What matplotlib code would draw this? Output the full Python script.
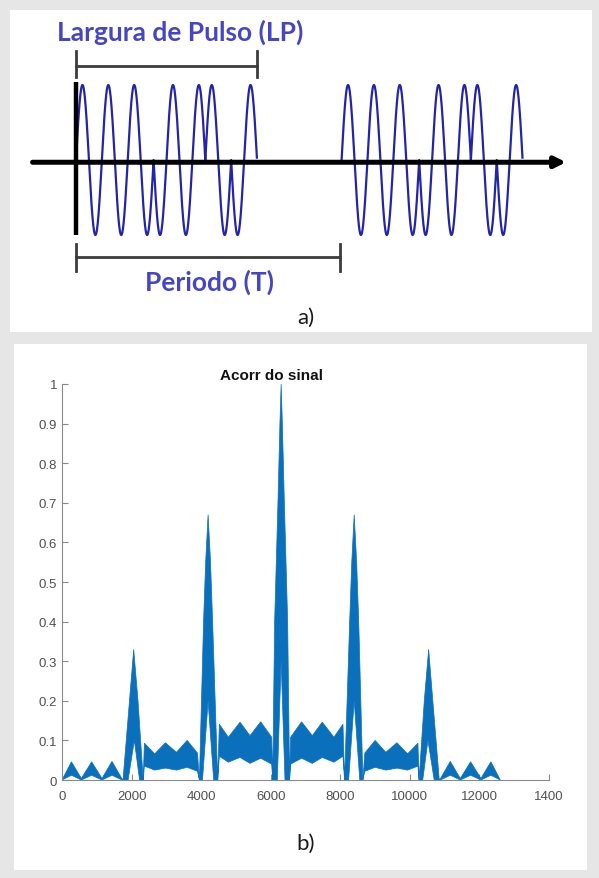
import numpy as np
import matplotlib
matplotlib.use("Agg")
import matplotlib.pyplot as plt
from matplotlib.patches import Rectangle

# ---------------- data ----------------
# (a) phase-coded pulse diagram (Barker-7 code, 1 carrier cycle per chip)
barker_code = [1, 1, 1, -1, -1, 1, -1]
pulse_width_LP = 7.0      # chips
period_T = 10.27          # chips
n_pulses = 2

# (b) autocorrelation envelope (upper / lower edges of the filled band)
upper_x = [0, 271, 557, 853, 1150, 1437, 1725,
           1754, 1940, 2061, 2185, 2335,
           2368, 2665, 2972, 3291, 3598, 3895,
           3950, 4070, 4130, 4200, 4270, 4330, 4477,
           4523, 4782, 5118, 5405, 5712, 6028,
           6057, 6113, 6208, 6265, 6300, 6335, 6392, 6487, 6543,
           6572, 6888, 7195, 7482, 7818, 8077,
           8123, 8270, 8330, 8400, 8470, 8530, 8650,
           8705, 9002, 9309, 9628, 9935, 10232,
           10265, 10415, 10540, 10660, 10846,
           10875, 11163, 11450, 11747, 12043, 12329, 12600]
upper_y = [0.0, 0.046, 0.004, 0.046, 0.004, 0.047, 0.003,
           0.0, 0.20, 0.33, 0.20, 0.0,
           0.093, 0.066, 0.094, 0.070, 0.100, 0.068,
           0.0, 0.40, 0.55, 0.67, 0.55, 0.40, 0.0,
           0.141, 0.108, 0.146, 0.112, 0.147, 0.108,
           0.0, 0.40, 0.70, 0.90, 1.0, 0.90, 0.70, 0.40, 0.0,
           0.108, 0.147, 0.112, 0.146, 0.108, 0.141,
           0.0, 0.40, 0.55, 0.67, 0.55, 0.40, 0.0,
           0.068, 0.100, 0.070, 0.094, 0.066, 0.093,
           0.0, 0.20, 0.33, 0.20, 0.0,
           0.003, 0.047, 0.004, 0.046, 0.004, 0.046, 0.0]
lower_x = [0, 271, 557, 853, 1150, 1437, 1725,
           1900, 2080, 2230, 2335,
           2368, 2665, 2972, 3291, 3598, 3895,
           3950, 4040, 4200, 4360, 4477,
           4523, 4782, 5118, 5405, 5712, 6028,
           6057, 6190, 6300, 6410, 6543,
           6572, 6888, 7195, 7482, 7818, 8077,
           8123, 8240, 8400, 8560, 8650,
           8705, 9002, 9309, 9628, 9935, 10232,
           10265, 10370, 10520, 10700, 10846,
           10875, 11163, 11450, 11747, 12043, 12329, 12600]
lower_y = [0.0, 0.012, 0.0, 0.012, 0.0, 0.012, 0.0,
           0.0, 0.10, 0.0, 0.0,
           0.035, 0.025, 0.030, 0.025, 0.032, 0.022,
           0.0, 0.0, 0.20, 0.0, 0.0,
           0.060, 0.045, 0.057, 0.042, 0.055, 0.040,
           0.0, 0.0, 0.30, 0.0, 0.0,
           0.040, 0.055, 0.042, 0.057, 0.045, 0.060,
           0.0, 0.0, 0.20, 0.0, 0.0,
           0.022, 0.032, 0.025, 0.030, 0.025, 0.035,
           0.0, 0.0, 0.10, 0.0, 0.0,
           0.0, 0.012, 0.0, 0.012, 0.0, 0.012, 0.0]
x_ticks = [0, 2000, 4000, 6000, 8000, 10000, 12000, 14000]
x_tick_labels = ["0", "2000", "4000", "6000", "8000", "10000", "12000", "1400"]
y_ticks = [0, 0.1, 0.2, 0.3, 0.4, 0.5, 0.6, 0.7, 0.8, 0.9, 1.0]
y_tick_labels = ["0", "0.1", "0.2", "0.3", "0.4", "0.5", "0.6", "0.7", "0.8", "0.9", "1"]

# ---------------- figure ----------------
W, H = 599, 879
fig = plt.figure(figsize=(W / 100, H / 100), dpi=100)
fig.patch.set_facecolor("#e6e6e6")


def fr(x0, y0, x1, y1):
    return [x0 / W, 1 - y1 / H, (x1 - x0) / W, (y1 - y0) / H]


# white panels
for (x0, y0, x1, y1) in [(10, 11, 592, 333), (14, 345, 587, 871)]:
    fig.patches.append(Rectangle((x0 / W, 1 - y1 / H), (x1 - x0) / W, (y1 - y0) / H,
                                 transform=fig.transFigure, facecolor="white",
                                 edgecolor="none", zorder=-5))

# ---------------- (a) ----------------
chip_px = 25.86
amp_px = 75.0
x0_px, y0_px = 76.0, 161.0
axa = fig.add_axes(fr(10, 11, 592, 333))
axa.set_xlim((10 - x0_px) / chip_px, (592 - x0_px) / chip_px)
axa.set_ylim((y0_px - 333) / amp_px, (y0_px - 11) / amp_px)
axa.axis("off")

wave_col = "#2424aa"
for p in range(n_pulses):
    t = np.linspace(0, pulse_width_LP, 1400, endpoint=False)
    code = np.array(barker_code)[np.floor(t).astype(int)]
    y = code * np.sin(2 * np.pi * t)
    axa.plot(p * period_T + t, y, color=wave_col, lw=1.6, zorder=3)

# time axis arrow
axa.annotate("", xy=(18.95, -0.03), xytext=(-1.68, -0.03),
             arrowprops=dict(arrowstyle="-|>", lw=3.6, color="black",
                             mutation_scale=16, shrinkA=0, shrinkB=0), zorder=4)
# vertical start line
axa.plot([0, 0], [-1.0, 1.04], color="black", lw=3.2, zorder=4, solid_capstyle="butt")

br_col = "#3c3c3c"
# LP bracket
axa.plot([0, pulse_width_LP], [1.25, 1.25], color=br_col, lw=2.0)
for xb in (0, pulse_width_LP):
    axa.plot([xb, xb], [1.11, 1.45], color=br_col, lw=2.0)
# T bracket
axa.plot([0, period_T - 0.07], [-1.29, -1.29], color=br_col, lw=2.0)
for xb in (0, period_T - 0.07):
    axa.plot([xb, xb], [-1.12, -1.48], color=br_col, lw=2.0)

txt_col = "#4646c4"
axa.text(4.02, 1.71, "Largura de Pulso (LP)", color=txt_col, fontsize=19,
         fontweight="bold", family="Lato", ha="center", va="center")
axa.text(5.18, -1.62, "Periodo (T)", color=txt_col, fontsize=19,
         fontweight="bold", family="Lato", ha="center", va="center")
fig.text(306 / W, 1 - 318 / H, "a)", fontsize=16, family="Lato",
         color="#1a1a1a", ha="center", va="center")
fig.text(306 / W, 1 - 844 / H, "b)", fontsize=16, family="Lato",
         color="#1a1a1a", ha="center", va="center")

# ---------------- (b) ----------------
axb = fig.add_axes(fr(62, 385, 549, 781))
axb.patch.set_alpha(0)
poly_x = list(upper_x) + list(lower_x[::-1])
poly_y = list(upper_y) + list(lower_y[::-1])
axb.fill(poly_x, poly_y, color="#0b70bb", lw=0.5, edgecolor="#0b70bb", zorder=2)
axb.set_xlim(0, 14000)
axb.set_ylim(0, 1)
for s in ("top", "right"):
    axb.spines[s].set_visible(False)
for s in ("left", "bottom"):
    axb.spines[s].set_color("#8a8a8a")
    axb.spines[s].set_linewidth(0.8)
axb.set_xticks(x_ticks)
axb.set_xticklabels(x_tick_labels)
axb.set_yticks(y_ticks)
axb.set_yticklabels(y_tick_labels)
axb.tick_params(direction="in", length=4, width=0.8, color="#8a8a8a",
                labelcolor="#505050", labelsize=9.5)
axb.tick_params(axis="x", pad=7)
for lab in axb.get_xticklabels() + axb.get_yticklabels():
    lab.set_family("Liberation Sans")
axb.text((271 - 62) / 487, 1 + (385 - 376) / 396, "Acorr do sinal",
         transform=axb.transAxes, ha="center", va="center", fontsize=11,
         fontweight="bold", family="Liberation Sans", color="#111111")

fig.savefig("out.png", dpi=100, facecolor=fig.get_facecolor())
